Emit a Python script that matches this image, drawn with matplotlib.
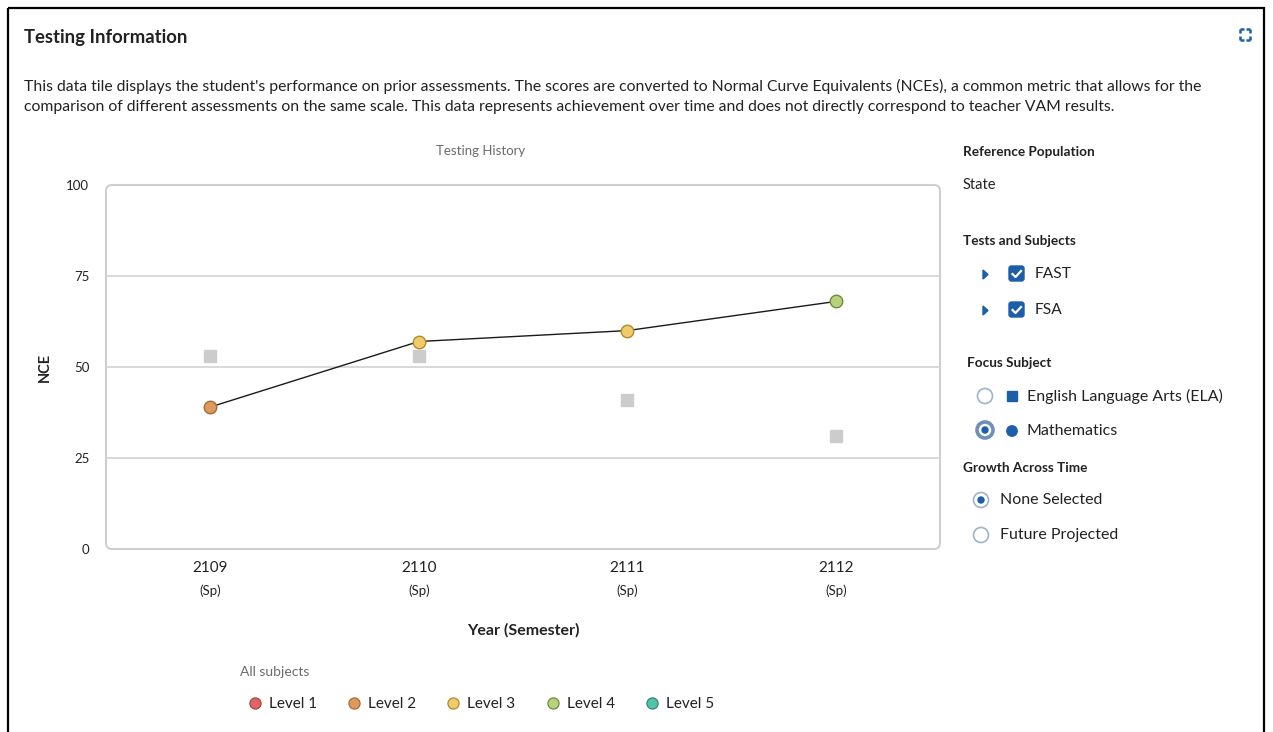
import matplotlib
matplotlib.use("Agg")
from matplotlib import pyplot as plt
from matplotlib.patches import FancyBboxPatch, Rectangle, Circle, Polygon

plt.rcParams['font.family'] = ['Lato', 'DejaVu Sans']

# data
years = ['2109', '2110', '2111', '2112']
semesters = ['(Sp)', '(Sp)', '(Sp)', '(Sp)']
math_nce = [39, 57, 60, 68]
math_level = [2, 3, 3, 4]
ela_nce = [53, 53, 41, 31]
y_ticks = [0, 25, 50, 75, 100]

level_names = ['Level 1', 'Level 2', 'Level 3', 'Level 4', 'Level 5']
level_colors = ['#e06666', '#dd9a5e', '#f0cb6b', '#b7d27c', '#52c2ab']
level_edges = ['#a84444', '#a86a32', '#b08a2e', '#6f8a3a', '#2e8a76']

TEXT = '#222222'
GRAY_TEXT = '#6b6b6b'
BLUE = '#1d5ea8'
W, H = 1273, 732

fig = plt.figure(figsize=(W / 100, H / 100), dpi=100)

# pixel-space layer for the tile decorations
ui = fig.add_axes([0, 0, 1, 1], zorder=0)
ui.set_xlim(0, W)
ui.set_ylim(H, 0)
ui.axis('off')

ui.add_patch(Rectangle((8, 8), 1256, 740, fill=False, ec='black', lw=1.6))
ui.text(24, 38, 'Testing Information', fontsize=13.3, fontweight='bold', color=TEXT, va='center')
desc = ("This data tile displays the student's performance on prior assessments. The scores are converted to "
        "Normal Curve Equivalents (NCEs), a common metric that allows for the\ncomparison of different assessments "
        "on the same scale. This data represents achievement over time and does not directly correspond to teacher VAM results.")
ui.text(24, 96, desc, fontsize=11.35, color=TEXT, va='center', linespacing=1.55)

# expand icon
for cx, cy, dx, dy in [(1240, 29, 1, 1), (1250, 29, -1, 1), (1240, 40, 1, -1), (1250, 40, -1, -1)]:
    ui.plot([cx, cx + 4 * dx], [cy, cy], color=BLUE, lw=1.8, solid_capstyle='butt')
    ui.plot([cx, cx], [cy, cy + 4 * dy], color=BLUE, lw=1.8, solid_capstyle='butt')

# chart frame
ui.add_patch(FancyBboxPatch((106, 185), 834, 364, boxstyle='round,pad=0,rounding_size=6',
                            fc='white', ec='#cfcfcf', lw=1.5))

ax = fig.add_axes([106 / W, 1 - 549 / H, 834 / W, 364 / H], zorder=1)
ax.patch.set_alpha(0)
x = list(range(len(years)))

for gy in y_ticks[1:-1]:
    ax.axhline(gy, color='#d6d6d6', lw=1.3, zorder=1)

ax.plot(x, ela_nce, 's', color='#cccccc', markersize=8, zorder=2)
ax.plot(x, math_nce, '-', color='#1a1a1a', lw=1.0, zorder=3)
for xi, yi, lv in zip(x, math_nce, math_level):
    ax.plot(xi, yi, 'o', markersize=9, markerfacecolor=level_colors[lv - 1],
            markeredgecolor=level_edges[lv - 1], markeredgewidth=1.0, zorder=4)

ax.set_xlim(-0.5, 3.5)
ax.set_ylim(0, 100)
ax.set_xticks(x)
ax.set_xticklabels(years, fontsize=11, color=TEXT)
ax.set_yticks(y_ticks)
ax.set_yticklabels([str(t) for t in y_ticks], fontsize=9.5, color=TEXT)
ax.tick_params(length=0)
ax.tick_params(axis='x', pad=9)
ax.tick_params(axis='y', pad=12)
for s in ax.spines.values():
    s.set_visible(False)
for xi, sem in zip(x, semesters):
    ax.text(xi, -11.5, sem, fontsize=9.5, color=TEXT, ha='center', va='center', clip_on=False)

ui.text(481, 151, 'Testing History', fontsize=9.5, color=GRAY_TEXT, ha='center', va='center')
ui.text(45, 367, 'NCE', fontsize=10.5, fontweight='bold', color=TEXT, rotation=90, ha='center', va='center')
ui.text(523, 630, 'Year (Semester)', fontsize=11.5, fontweight='bold', color=TEXT, ha='center', va='center')

# legend
ui.text(240, 672, 'All subjects', fontsize=10, color=GRAY_TEXT, va='center')
for i, (name, fc, ec) in enumerate(zip(level_names, level_colors, level_edges)):
    lx = 255 + i * 99.2
    ui.plot(lx, 703, 'o', markersize=8, markerfacecolor=fc, markeredgecolor=ec, markeredgewidth=0.9)
    ui.text(lx + 14, 704, name, fontsize=11, color=TEXT, va='center')

# right-hand controls
ui.text(963, 152, 'Reference Population', fontsize=9.8, fontweight='bold', color=TEXT, va='center')
ui.text(963, 185, 'State', fontsize=10.5, color=TEXT, va='center')
ui.text(963, 241, 'Tests and Subjects', fontsize=9.8, fontweight='bold', color=TEXT, va='center')
for yy, label in [(274, 'FAST'), (310, 'FSA')]:
    ui.add_patch(Polygon([[983, yy - 4], [983, yy + 5], [988, yy + 0.5]], color=BLUE))
    ui.add_patch(FancyBboxPatch((1009, yy - 8), 15, 15, boxstyle='round,pad=0,rounding_size=2.5',
                                fc=BLUE, ec=BLUE))
    ui.plot([1012.5, 1015.5, 1021], [yy, yy + 3, yy - 3], color='white', lw=1.6)
    ui.text(1035, yy, label, fontsize=11.2, color=TEXT, va='center')

ui.text(967, 363, 'Focus Subject', fontsize=9.8, fontweight='bold', color=TEXT, va='center')
ui.add_patch(Circle((985, 396), 7.5, fc='white', ec='#9fb3cc', lw=1.2))
ui.add_patch(Rectangle((1007, 391), 10, 10, color=BLUE))
ui.text(1027, 396, 'English Language Arts (ELA)', fontsize=11.5, color=TEXT, va='center')
ui.add_patch(Circle((985, 430), 8, fc='white', ec='#6f8fb8', lw=2.6))
ui.add_patch(Circle((985, 430), 3, color=BLUE))
ui.add_patch(Circle((1012, 431), 5.2, color=BLUE))
ui.text(1027, 431, 'Mathematics', fontsize=11.5, color=TEXT, va='center')

ui.text(963, 468, 'Growth Across Time', fontsize=9.8, fontweight='bold', color=TEXT, va='center')
ui.add_patch(Circle((981, 500), 7.5, fc='white', ec='#9fb3cc', lw=1.2))
ui.add_patch(Circle((981, 500), 3, color=BLUE))
ui.text(1000, 500, 'None Selected', fontsize=11.5, color=TEXT, va='center')
ui.add_patch(Circle((981, 535), 7.5, fc='white', ec='#9fb3cc', lw=1.2))
ui.text(1000, 535, 'Future Projected', fontsize=11.5, color=TEXT, va='center')

fig.savefig('out.png', dpi=100)
